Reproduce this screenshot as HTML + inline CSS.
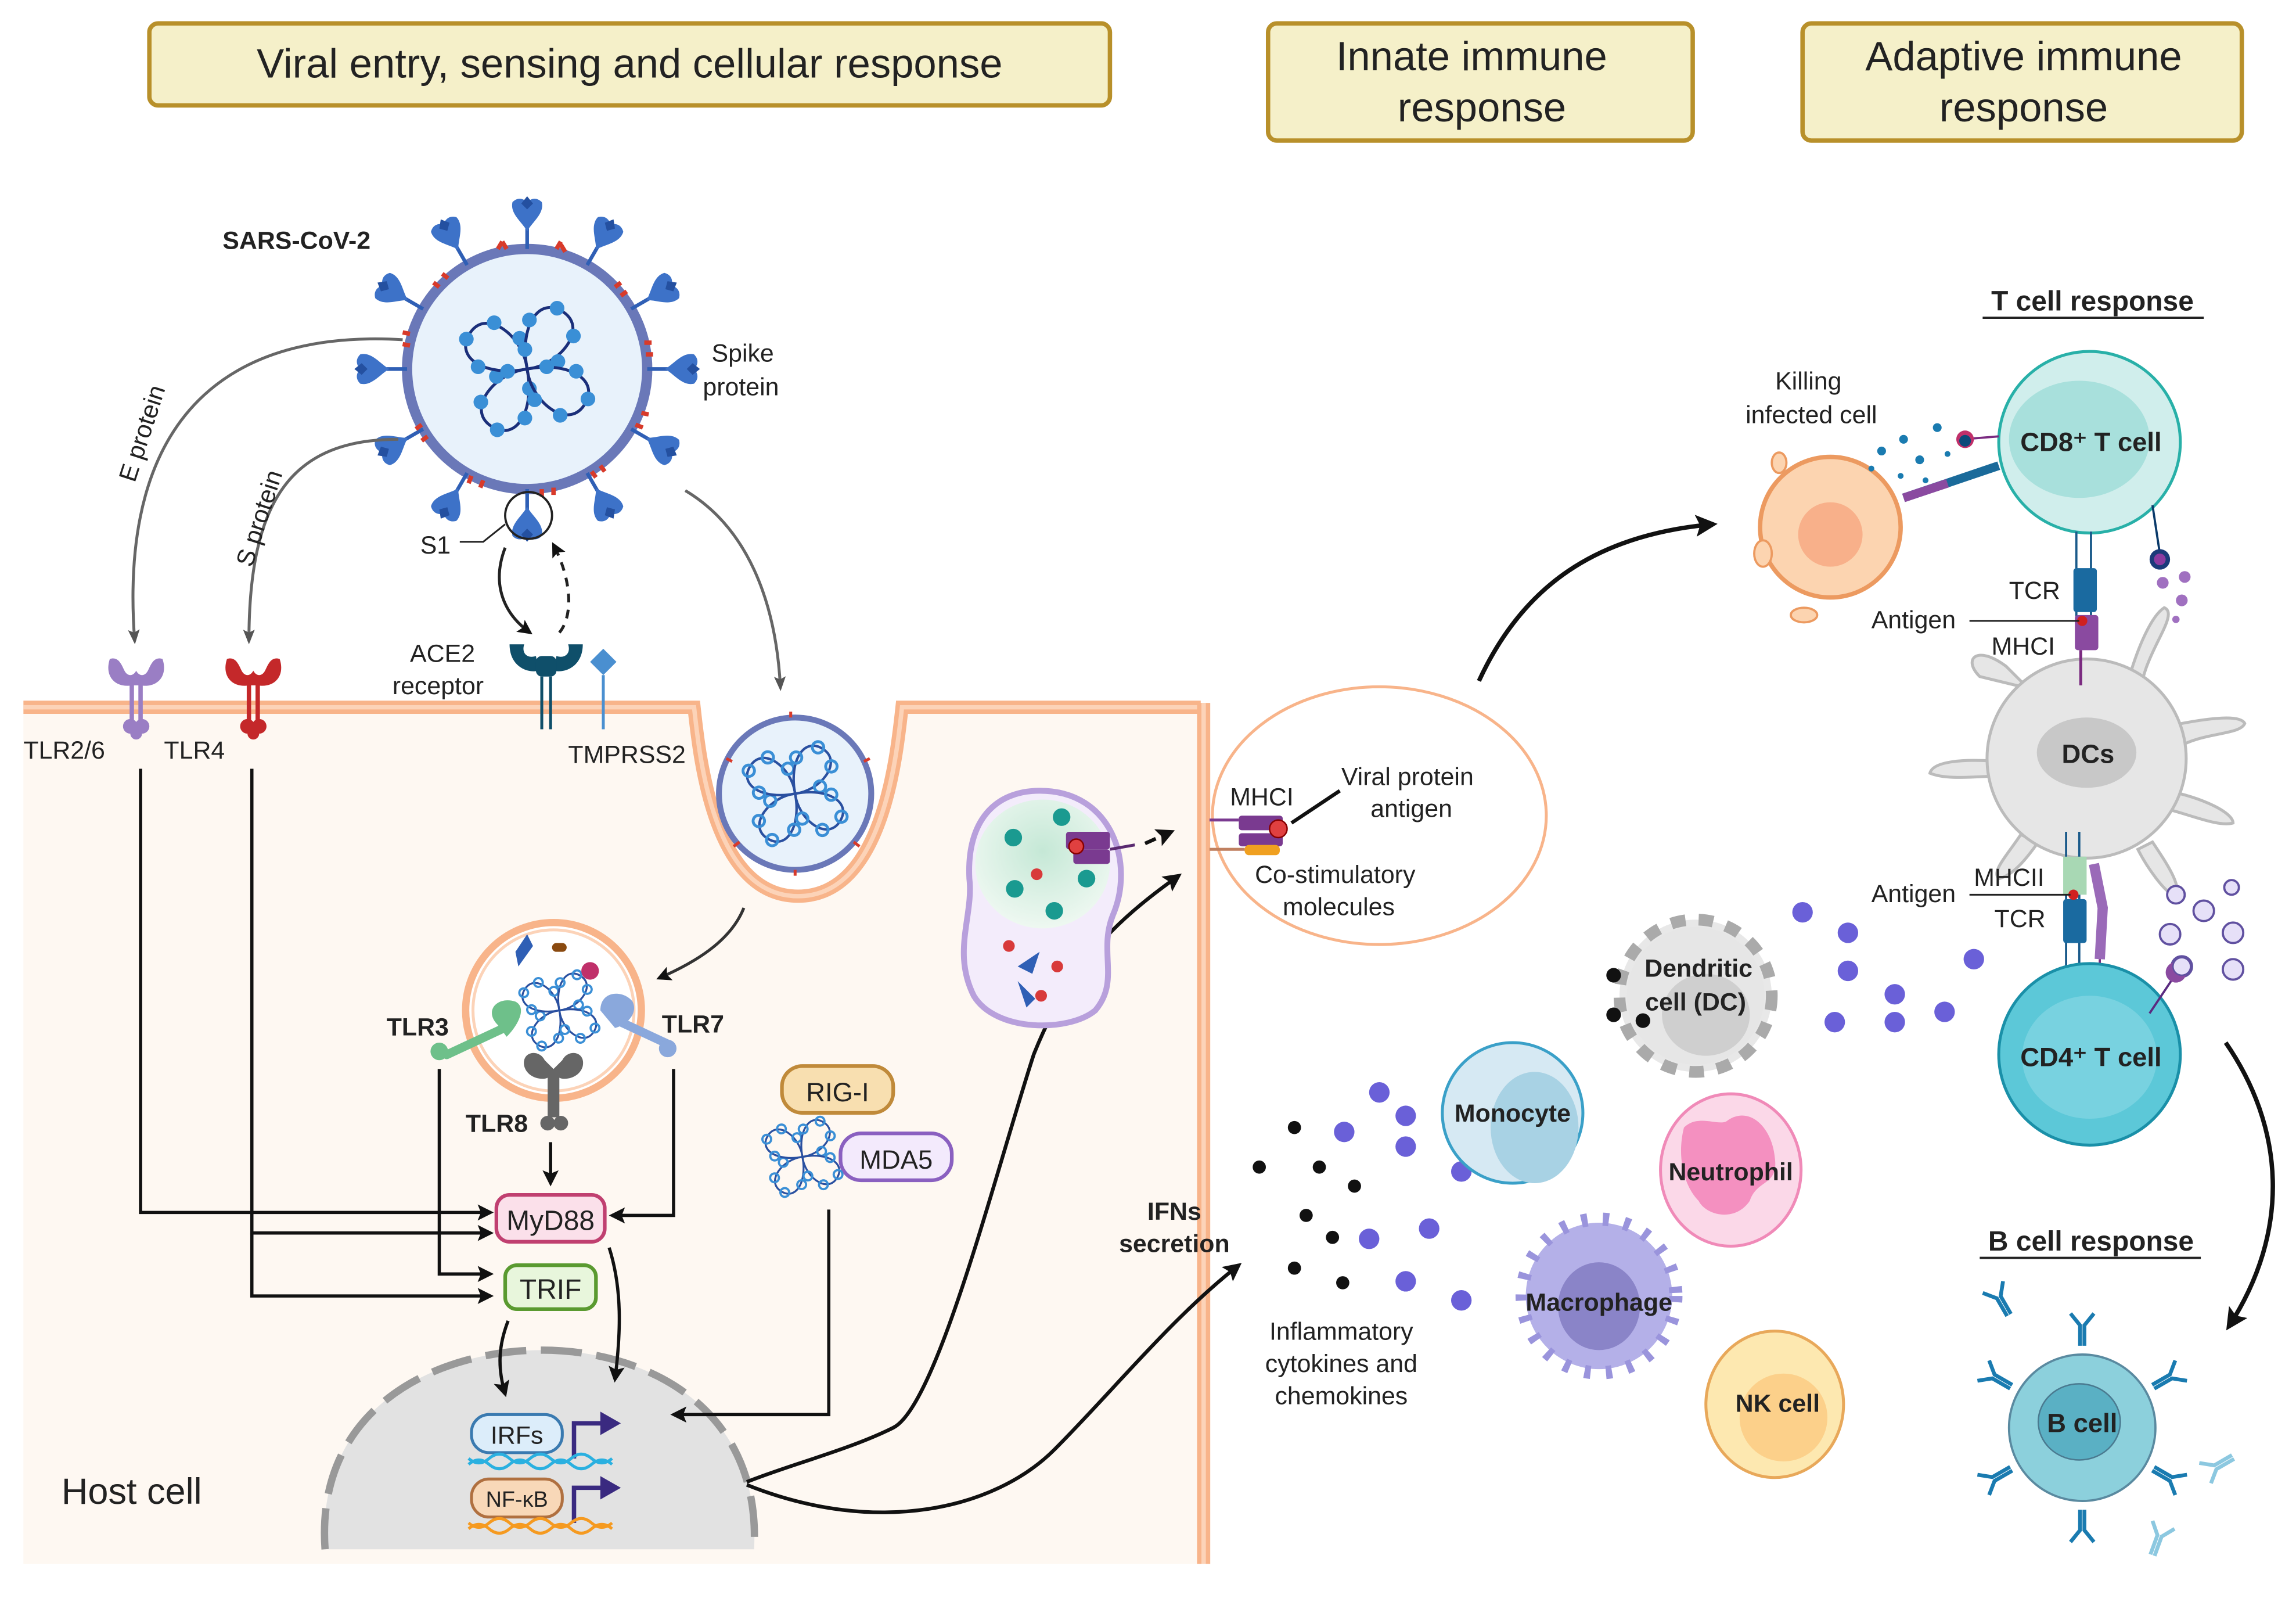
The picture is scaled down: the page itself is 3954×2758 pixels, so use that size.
<!DOCTYPE html>
<html><head><meta charset="utf-8"><style>
html,body{margin:0;padding:0;background:#fff}
svg{display:block}
text{font-family:"Liberation Sans",sans-serif;fill:#222}
.b{font-weight:bold}
</style></head><body>
<svg width="3954" height="2758" viewBox="0 0 1568 1094" preserveAspectRatio="none" xmlns="http://www.w3.org/2000/svg">
<defs>
<marker id="ah" viewBox="0 0 10 10" refX="8" refY="5" markerWidth="5" markerHeight="5" orient="auto"><path d="M0,0L10,5L0,10L2,5Z" fill="#111"/></marker>
<marker id="ahg" viewBox="0 0 10 10" refX="8" refY="5" markerWidth="5" markerHeight="5" orient="auto"><path d="M0,1L10,5L0,9L2,5Z" fill="#555"/></marker>
<g id="spike"><line x1="0" y1="0" x2="0" y2="-14" stroke="#2f5fb5" stroke-width="2.5"/><path d="M0,-12 C-3,-18 -12,-24 -10,-32 C-6,-36 -2,-34 0,-32 C2,-34 6,-36 10,-32 C12,-24 3,-18 0,-12Z" fill="#3d72c8"/><path d="M-4,-31 L0,-36 L4,-31 L0,-27Z" fill="#2450a0"/></g>
<g id="rna"><path d="M0,0 C-10,-20 -40,-30 -45,-10 C-50,10 -25,15 0,0" fill="none" stroke="#1b2f7a" stroke-width="2"/><circle cx="-12" cy="-18" r="5" fill="#3a8fd6"/><circle cx="-32" cy="-22" r="5" fill="#3a8fd6"/><circle cx="-46" cy="-5" r="5" fill="#3a8fd6"/><circle cx="-32" cy="10" r="5" fill="#3a8fd6"/><circle cx="-12" cy="6" r="5" fill="#3a8fd6"/></g>
<g id="rnas"><path d="M0,0 C-6,-12 -24,-18 -27,-6 C-30,6 -15,9 0,0" fill="none" stroke="#2a50a0" stroke-width="1.3"/><circle cx="-8" cy="-11" r="3" fill="none" stroke="#3a8fd6" stroke-width="1.5"/><circle cx="-20" cy="-13" r="3" fill="none" stroke="#3a8fd6" stroke-width="1.5"/><circle cx="-27" cy="-3" r="3" fill="none" stroke="#3a8fd6" stroke-width="1.5"/><circle cx="-18" cy="6" r="3" fill="none" stroke="#3a8fd6" stroke-width="1.5"/></g>
<g id="ab"><path d="M-1.5,0 V-14 L-8,-22 M1.5,0 V-14 L8,-22" fill="none" stroke="#1a7bb0" stroke-width="2.6"/></g>
<g id="ab2"><path d="M-1.5,0 V-14 L-8,-22 M1.5,0 V-14 L8,-22" fill="none" stroke="#8cc8e0" stroke-width="2.6"/></g>
<g id="tlr"><path d="M-3,0 V-26 M3,0 V-26" stroke="currentColor" stroke-width="3"/><path d="M-3,-24 C-14,-22 -22,-30 -18,-42 C-12,-44 -10,-38 -8,-34 C-6,-30 -2,-30 0,-34 C2,-30 6,-30 8,-34 C10,-38 12,-44 18,-42 C22,-30 14,-22 3,-24Z" fill="currentColor"/><circle cx="-4" cy="4" r="5" fill="currentColor"/><circle cx="4" cy="4" r="5" fill="currentColor"/><circle cx="0" cy="9" r="4" fill="currentColor"/></g>
<radialGradient id="gg" cx="0.5" cy="0.4" r="0.6"><stop offset="0" stop-color="#c5e8d6"/><stop offset="1" stop-color="#eef8f1"/></radialGradient>
</defs>

<!-- headers -->
<rect x="102" y="16" width="656" height="56" rx="6" fill="#f5f0c9" stroke="#b8902a" stroke-width="3"/>
<text x="430" y="53" font-size="28" text-anchor="middle">Viral entry, sensing and cellular response</text>
<rect x="866" y="16" width="290" height="80" rx="6" fill="#f5f0c9" stroke="#b8902a" stroke-width="3"/>
<text x="1005" y="48" font-size="28" text-anchor="middle">Innate immune</text>
<text x="1012" y="83" font-size="28" text-anchor="middle">response</text>
<rect x="1231" y="16" width="300" height="80" rx="6" fill="#f5f0c9" stroke="#b8902a" stroke-width="3"/>
<text x="1382" y="48" font-size="28" text-anchor="middle">Adaptive immune</text>
<text x="1382" y="83" font-size="28" text-anchor="middle">response</text>

<!-- host cell -->
<path d="M16,487 H478 C480,520 490,610 545,610 C600,610 610,520 612,487 H820 V1068 H16Z" fill="#fef8f2"/>
<path d="M16,483 H474 C478,520 488,612 545,612 C602,612 612,520 616,483 H820" fill="none" stroke="#f8b48a" stroke-width="9"/>
<path d="M16,483 H474 C478,520 488,612 545,612 C602,612 612,520 616,483 H820" fill="none" stroke="#fcd3b8" stroke-width="3"/>
<line x1="822" y1="480" x2="822" y2="1068" stroke="#f8b48a" stroke-width="9"/>
<line x1="822" y1="480" x2="822" y2="1068" stroke="#fcd3b8" stroke-width="3"/>
<text x="42" y="1027" font-size="25">Host cell</text>

<!-- virus -->
<g>
<circle cx="360" cy="252" r="82" fill="#e8f2fb" stroke="#6a78b8" stroke-width="7"/>
<g transform="translate(360,252)">
<use href="#spike" transform="rotate(0) translate(0,-82)"/>
<use href="#spike" transform="rotate(30) translate(0,-82)"/>
<use href="#spike" transform="rotate(60) translate(0,-82)"/>
<use href="#spike" transform="rotate(90) translate(0,-82)"/>
<use href="#spike" transform="rotate(120) translate(0,-82)"/>
<use href="#spike" transform="rotate(150) translate(0,-82)"/>
<use href="#spike" transform="rotate(180) translate(0,-82)"/>
<use href="#spike" transform="rotate(210) translate(0,-82)"/>
<use href="#spike" transform="rotate(240) translate(0,-82)"/>
<use href="#spike" transform="rotate(270) translate(0,-82)"/>
<use href="#spike" transform="rotate(300) translate(0,-82)"/>
<use href="#spike" transform="rotate(330) translate(0,-82)"/>
<g stroke="#d83a2a" stroke-width="3" fill="none">
<path d="M-20,-82 l3,-5 M-14,-82 l-3,-5"/><path d="M20,-82 l3,-5 M26,-80 l-3,-5"/><path d="M60,-56 l4,-3 M64,-50 l4,-3"/><path d="M80,-18 l5,0 M81,-10 l5,0"/><path d="M78,30 l5,1 M74,38 l5,2"/><path d="M50,66 l3,4 M44,70 l3,4"/><path d="M10,82 l0,5 M18,81 l0,5"/><path d="M-30,76 l-2,5 M-38,73 l-2,5"/><path d="M-68,46 l-4,3 M-72,38 l-4,3"/><path d="M-80,-16 l-5,-1 M-80,-24 l-5,-1"/><path d="M-60,-56 l-4,-3 M-54,-62 l-4,-3"/>
</g>
<use href="#rna" transform="rotate(-70)"/>
<use href="#rna" transform="rotate(20)"/>
<use href="#rna" transform="rotate(110)"/>
<use href="#rna" transform="rotate(200)"/>
</g>
</g>
<text x="152" y="170" font-size="17" class="b">SARS-CoV-2</text>
<text x="486" y="247" font-size="17">Spike</text>
<text x="480" y="270" font-size="17">protein</text>
<circle cx="361" cy="352" r="16" fill="none" stroke="#222" stroke-width="1.5"/>
<path d="M345,358 L330,370 H314" fill="none" stroke="#222" stroke-width="1.2"/>
<text x="287" y="378" font-size="17">S1</text>

<!-- E / S protein curves -->
<path d="M275,232 C160,225 80,280 92,438" fill="none" stroke="#666" stroke-width="2" marker-end="url(#ahg)"/>
<path d="M272,300 C200,300 170,340 170,438" fill="none" stroke="#666" stroke-width="2" marker-end="url(#ahg)"/>
<text transform="translate(92,330) rotate(-72)" font-size="17">E protein</text>
<text transform="translate(172,388) rotate(-72)" font-size="17">S protein</text>
<path d="M468,335 C510,360 530,410 533,470" fill="none" stroke="#666" stroke-width="2" marker-end="url(#ahg)"/>

<!-- ACE2 -->
<path d="M345,374 C335,400 345,420 362,432" fill="none" stroke="#222" stroke-width="2" marker-end="url(#ah)"/>
<path d="M382,432 C392,420 390,395 378,372" fill="none" stroke="#222" stroke-width="2" stroke-dasharray="6,5" marker-end="url(#ah)"/>
<g fill="#0f4f6a"><path d="M348,440 C348,455 360,460 368,458 L366,448 C360,450 356,446 358,440Z"/><path d="M398,440 C398,455 386,460 378,458 L380,448 C386,450 390,446 388,440Z"/><rect x="366" y="448" width="14" height="14" rx="4"/></g>
<line x1="370" y1="462" x2="370" y2="498" stroke="#0f4f6a" stroke-width="2"/><line x1="376" y1="462" x2="376" y2="498" stroke="#0f4f6a" stroke-width="2"/>
<path d="M412,443 L421,452 L412,461 L403,452Z" fill="#4a8fd0"/><line x1="412" y1="461" x2="412" y2="498" stroke="#4a8fd0" stroke-width="2"/>
<text x="280" y="452" font-size="17">ACE2</text>
<text x="268" y="474" font-size="17">receptor</text>
<text x="388" y="521" font-size="17">TMPRSS2</text>

<!-- TLR2/6, TLR4 -->
<use href="#tlr" transform="translate(93,492)" style="color:#9a7ec4"/>
<use href="#tlr" transform="translate(173,492)" style="color:#c4282a"/>
<text x="16" y="518" font-size="17">TLR2/6</text>
<text x="112" y="518" font-size="17">TLR4</text>

<!-- endocytosed virus -->
<circle cx="543" cy="542" r="52" fill="#e8f2fb" stroke="#6a78b8" stroke-width="4"/>
<use href="#rnas" transform="translate(543,542) rotate(-70) scale(1.3)"/>
<use href="#rnas" transform="translate(543,542) rotate(20) scale(1.3)"/>
<use href="#rnas" transform="translate(543,542) rotate(110) scale(1.3)"/>
<use href="#rnas" transform="translate(543,542) rotate(200) scale(1.3)"/>
<g stroke="#d83a2a" stroke-width="2"><path d="M500,520 l-4,-2 M590,520 l4,-2 M505,575 l-4,3 M583,575 l4,3 M540,490 l0,-4 M543,594 l0,4"/></g>
<path d="M508,620 C500,640 480,655 450,668" fill="none" stroke="#333" stroke-width="2" marker-end="url(#ah)"/>

<!-- endosome -->
<circle cx="378" cy="690" r="60" fill="#fff" stroke="#f8b48a" stroke-width="5"/>
<circle cx="378" cy="690" r="55" fill="#fff" stroke="#fcd3b8" stroke-width="2"/>
<use href="#rnas" transform="translate(382,690) rotate(-70)"/>
<use href="#rnas" transform="translate(382,690) rotate(20)"/>
<use href="#rnas" transform="translate(382,690) rotate(110)"/>
<use href="#rnas" transform="translate(382,690) rotate(200)"/>
<path d="M352,650 l8,-12 l4,8 l-10,14Z" fill="#2f5fb5"/>
<rect x="377" y="644" width="10" height="6" rx="3" fill="#8a4a10"/>
<circle cx="403" cy="663" r="6" fill="#c0306a"/>
<g fill="#6ec08a"><path d="M340,700 C330,690 340,680 352,684 C360,688 354,700 346,708Z"/><rect x="300" y="708" width="50" height="6" rx="3" transform="rotate(-25 325 711)"/><circle cx="300" cy="718" r="6"/></g>
<g fill="#8aa8dc"><path d="M410,690 C410,676 426,676 432,684 C436,692 428,700 420,702Z"/><rect x="418" y="702" width="42" height="6" rx="3" transform="rotate(25 439 705)"/><circle cx="456" cy="716" r="6"/></g>
<g fill="#666"><path d="M358,728 C356,718 368,716 372,724 L378,730 L384,724 C388,716 400,718 398,728 C396,736 386,738 382,736 L374,736 C370,738 360,736 358,728Z"/><rect x="374" y="735" width="8" height="28"/><circle cx="374" cy="767" r="5"/><circle cx="383" cy="767" r="5"/></g>
<text x="264" y="707" font-size="17" class="b">TLR3</text>
<text x="452" y="705" font-size="17" class="b">TLR7</text>
<text x="318" y="773" font-size="17" class="b">TLR8</text>

<!-- nucleus -->
<path d="M222,1058 C215,960 300,922 370,922 C440,922 520,960 515,1058Z" fill="#e2e2e2"/>
<path d="M222,1058 C215,960 300,922 370,922 C440,922 520,960 515,1058" fill="none" stroke="#999" stroke-width="5" stroke-dasharray="28,10"/>
<rect x="322" y="966" width="62" height="26" rx="12" fill="#dcedfa" stroke="#3a7ab0" stroke-width="2"/>
<text x="353" y="986" font-size="17" text-anchor="middle">IRFs</text>
<rect x="322" y="1010" width="62" height="26" rx="12" fill="#f8d8b8" stroke="#b07040" stroke-width="2"/>
<text x="353" y="1029" font-size="15" text-anchor="middle">NF-κB</text>
<path d="M392,996 V972 H412" fill="none" stroke="#3a2a80" stroke-width="3"/><path d="M410,964 L424,972 L410,980Z" fill="#3a2a80"/>
<path d="M392,1040 V1016 H412" fill="none" stroke="#3a2a80" stroke-width="3"/><path d="M410,1008 L424,1016 L410,1024Z" fill="#3a2a80"/>
<path d="M320,1000 q7,-6 14,0 t14,0 t14,0 t14,0 t14,0 t14,0 t14,0 M320,996 q7,6 14,0 t14,0 t14,0 t14,0 t14,0 t14,0 t14,0" fill="none" stroke="#2ab0e0" stroke-width="2"/>
<path d="M320,1044 q7,-6 14,0 t14,0 t14,0 t14,0 t14,0 t14,0 t14,0 M320,1040 q7,6 14,0 t14,0 t14,0 t14,0 t14,0 t14,0 t14,0" fill="none" stroke="#f59a20" stroke-width="2"/>

<!-- signaling lines -->
<g fill="none" stroke="#111" stroke-width="2.2">
<path d="M96,525 V828 H335" marker-end="url(#ah)"/>
<path d="M172,525 V842 H335" marker-end="url(#ah)"/>
<path d="M172,842 V885 H335" marker-end="url(#ah)"/>
<path d="M300,730 V870 H335" marker-end="url(#ah)"/>
<path d="M460,730 V830 H418" marker-end="url(#ah)"/>
<path d="M376,780 V808" marker-end="url(#ah)"/>
<path d="M416,852 C425,880 424,910 420,942" marker-end="url(#ah)"/>
<path d="M347,902 C340,920 340,935 345,952" marker-end="url(#ah)"/>
<path d="M566,826 V966 H460" marker-end="url(#ah)"/>
</g>
<rect x="339" y="816" width="74" height="32" rx="9" fill="#fbe0ea" stroke="#c04070" stroke-width="2.5"/>
<text x="376" y="840" font-size="19" text-anchor="middle">MyD88</text>
<rect x="345" y="864" width="62" height="30" rx="8" fill="#e8f6dc" stroke="#5a9a30" stroke-width="2.5"/>
<text x="376" y="887" font-size="19" text-anchor="middle">TRIF</text>
<rect x="534" y="728" width="76" height="32" rx="14" fill="#f8dfb0" stroke="#c08a3a" stroke-width="2.5"/>
<text x="572" y="752" font-size="18" text-anchor="middle">RIG-I</text>
<rect x="574" y="774" width="76" height="32" rx="14" fill="#f3eafc" stroke="#8a60c0" stroke-width="2.5"/>
<text x="612" y="798" font-size="18" text-anchor="middle">MDA5</text>
<use href="#rnas" transform="translate(548,790) rotate(-70)"/>
<use href="#rnas" transform="translate(548,790) rotate(20)"/>
<use href="#rnas" transform="translate(548,790) rotate(110)"/>
<use href="#rnas" transform="translate(548,790) rotate(200)"/>

<!-- nucleus out arrows -->
<path d="M510,1012 C540,1000 580,990 610,975 C640,960 680,800 706,720 C730,660 760,630 805,598" fill="none" stroke="#111" stroke-width="2.5" marker-end="url(#ah)"/>
<path d="M510,1014 C600,1050 680,1030 720,990 C760,950 800,900 846,864" fill="none" stroke="#111" stroke-width="2.5" marker-end="url(#ah)"/>

<!-- MHC vesicle -->
<path d="M710,540 C760,540 775,590 760,625 C750,650 765,670 748,690 C730,705 680,705 665,680 C650,650 665,625 662,600 C660,560 680,540 710,540Z" fill="#f3ecfb" stroke="#b8a0dc" stroke-width="4"/>
<ellipse cx="712" cy="590" rx="46" ry="44" fill="url(#gg)"/>
<g fill="#1a9a90"><circle cx="725" cy="558" r="6"/><circle cx="692" cy="572" r="6"/><circle cx="693" cy="607" r="6"/><circle cx="742" cy="600" r="6"/><circle cx="720" cy="622" r="6"/></g>
<g fill="#d83a3a"><circle cx="708" cy="597" r="4"/><circle cx="689" cy="646" r="4"/><circle cx="722" cy="660" r="4"/><circle cx="711" cy="680" r="4"/></g>
<path d="M695,660 l15,-10 l-5,15Z M695,670 l6,18 l6,-6Z" fill="#2f5fb5"/>
<rect x="728" y="568" width="30" height="12" rx="2" fill="#7a3a90"/><rect x="733" y="580" width="25" height="10" rx="2" fill="#7a3a90"/><circle cx="735" cy="578" r="5" fill="#e04040" stroke="#800" stroke-width="1"/>
<path d="M758,580 L775,577" stroke="#5a2a70" stroke-width="2" fill="none"/>
<path d="M782,576 L800,568" stroke="#111" stroke-width="2.5" fill="none" stroke-dasharray="8,4" marker-end="url(#ah)"/>

<!-- zoom circle -->
<ellipse cx="942" cy="557" rx="114" ry="88" fill="#fff" stroke="#f8b48a" stroke-width="2"/>
<rect x="846" y="557" width="30" height="10" rx="2" fill="#7a3a90"/><rect x="846" y="569" width="30" height="9" rx="2" fill="#7a3a90"/><circle cx="873" cy="566" r="6" fill="#e04040" stroke="#800" stroke-width="1"/>
<line x1="826" y1="560" x2="846" y2="560" stroke="#7a3a90" stroke-width="2"/>
<line x1="826" y1="580" x2="850" y2="580" stroke="#c08060" stroke-width="2"/><rect x="850" y="577" width="24" height="7" rx="3" fill="#f0a020"/>
<line x1="882" y1="562" x2="915" y2="540" stroke="#111" stroke-width="2.5"/>
<text x="840" y="550" font-size="17">MHCI</text>
<text x="916" y="536" font-size="17">Viral protein</text>
<text x="936" y="558" font-size="17">antigen</text>
<text x="857" y="603" font-size="17">Co-stimulatory</text>
<text x="876" y="625" font-size="17">molecules</text>
<text x="802" y="833" font-size="17" class="b" text-anchor="middle">IFNs</text>
<text x="802" y="855" font-size="17" class="b" text-anchor="middle">secretion</text>

<!-- arrow to T cell -->
<path d="M1010,465 C1040,400 1090,365 1170,358" fill="none" stroke="#111" stroke-width="3" marker-end="url(#ah)"/>

<!-- cytokines -->
<g fill="#111"><circle cx="884" cy="770" r="4.5"/><circle cx="860" cy="797" r="4.5"/><circle cx="901" cy="797" r="4.5"/><circle cx="925" cy="810" r="4.5"/><circle cx="892" cy="830" r="4.5"/><circle cx="910" cy="845" r="4.5"/><circle cx="884" cy="866" r="4.5"/><circle cx="917" cy="876" r="4.5"/></g>
<g fill="#6a60d8"><circle cx="942" cy="746" r="7"/><circle cx="960" cy="762" r="7"/><circle cx="918" cy="773" r="7"/><circle cx="960" cy="783" r="7"/><circle cx="998" cy="800" r="7"/><circle cx="935" cy="846" r="7"/><circle cx="976" cy="839" r="7"/><circle cx="960" cy="875" r="7"/><circle cx="998" cy="888" r="7"/>
<circle cx="1231" cy="623" r="7"/><circle cx="1262" cy="637" r="7"/><circle cx="1262" cy="663" r="7"/><circle cx="1294" cy="679" r="7"/><circle cx="1253" cy="698" r="7"/><circle cx="1294" cy="698" r="7"/><circle cx="1328" cy="691" r="7"/><circle cx="1348" cy="655" r="7"/></g>
<text x="916" y="915" font-size="17" text-anchor="middle">Inflammatory</text>
<text x="916" y="937" font-size="17" text-anchor="middle">cytokines and</text>
<text x="916" y="959" font-size="17" text-anchor="middle">chemokines</text>

<!-- innate cells -->
<circle cx="1158" cy="680" r="52" fill="#e8e8e8" stroke="#aaa" stroke-width="8" stroke-dasharray="10,9"/>
<circle cx="1158" cy="680" r="47" fill="#e6e6e6"/>
<ellipse cx="1165" cy="693" rx="30" ry="28" fill="#cfcfcf"/>
<g fill="#111"><circle cx="1102" cy="666" r="5"/><circle cx="1102" cy="693" r="5"/><circle cx="1122" cy="697" r="5"/></g>
<text x="1160" y="667" font-size="17" class="b" text-anchor="middle">Dendritic</text>
<text x="1158" y="690" font-size="17" class="b" text-anchor="middle">cell (DC)</text>

<circle cx="1033" cy="760" r="48" fill="#d6e9f3" stroke="#3aa0c8" stroke-width="2"/>
<ellipse cx="1048" cy="770" rx="30" ry="38" fill="#a8d2e4"/>
<text x="1033" y="766" font-size="17" class="b" text-anchor="middle">Monocyte</text>

<ellipse cx="1182" cy="799" rx="48" ry="52" fill="#fbd8e8" stroke="#f08ab8" stroke-width="2"/>
<path d="M1150,770 C1160,760 1175,770 1180,765 C1195,755 1210,770 1212,790 C1215,810 1200,805 1195,820 C1185,835 1165,830 1160,820 C1150,810 1145,790 1150,770Z" fill="#f490c0"/>
<text x="1182" y="806" font-size="17" class="b" text-anchor="middle">Neutrophil</text>

<circle cx="1092" cy="885" r="50" fill="#b4b0e8" stroke="#9a94dc" stroke-width="14" stroke-dasharray="4,10"/>
<circle cx="1092" cy="885" r="48" fill="#b4b0e8"/>
<ellipse cx="1092" cy="892" rx="28" ry="30" fill="#8a84c8"/>
<text x="1092" y="895" font-size="17" class="b" text-anchor="middle">Macrophage</text>

<ellipse cx="1212" cy="959" rx="47" ry="50" fill="#fde8b0" stroke="#e8a85a" stroke-width="2"/>
<ellipse cx="1218" cy="968" rx="30" ry="30" fill="#fcd08a"/>
<text x="1214" y="964" font-size="17" class="b" text-anchor="middle">NK cell</text>

<!-- T cell response -->
<text x="1429" y="212" font-size="19" class="b" text-anchor="middle">T cell response</text>
<line x1="1354" y1="217" x2="1505" y2="217" stroke="#222" stroke-width="1.5"/>

<circle cx="1250" cy="360" r="48" fill="#fcd4b0" stroke="#ec9a60" stroke-width="3"/>
<circle cx="1250" cy="365" r="22" fill="#f8b08a"/>
<g fill="#fcd4b0" stroke="#ec9a60" stroke-width="1.5"><ellipse cx="1204" cy="378" rx="6" ry="9"/><ellipse cx="1232" cy="420" rx="9" ry="5"/><ellipse cx="1215" cy="316" rx="5" ry="7"/></g>
<g fill="#1a7bb0"><circle cx="1285" cy="308" r="3"/><circle cx="1300" cy="300" r="3"/><circle cx="1323" cy="292" r="3"/><circle cx="1311" cy="314" r="3"/><circle cx="1278" cy="320" r="2"/><circle cx="1298" cy="325" r="2"/><circle cx="1315" cy="328" r="2"/><circle cx="1330" cy="310" r="2"/></g>
<text x="1235" y="266" font-size="17" text-anchor="middle">Killing</text>
<text x="1237" y="289" font-size="17" text-anchor="middle">infected cell</text>

<!-- CD8 -->
<circle cx="1427" cy="302" r="62" fill="#d0eeec" stroke="#28b0a8" stroke-width="2"/>
<ellipse cx="1420" cy="300" rx="48" ry="40" fill="#a8e0dc"/>
<text x="1428" y="308" font-size="18" class="b" text-anchor="middle">CD8⁺ T cell</text>
<path d="M1300,340 L1365,318" stroke="#1a6a9a" stroke-width="6"/><path d="M1300,340 L1330,330" stroke="#8a4aa0" stroke-width="6"/>
<line x1="1340" y1="300" x2="1365" y2="298" stroke="#7a2a80" stroke-width="1.5"/><circle cx="1342" cy="300" r="6" fill="#c0306a"/><circle cx="1342" cy="301" r="4" fill="#0a4a7a"/>
<line x1="1470" y1="345" x2="1475" y2="378" stroke="#0a3a6a" stroke-width="1.5"/><circle cx="1475" cy="382" r="7" fill="#1a3a7a"/><circle cx="1475" cy="382" r="4" fill="#8a3aa0"/>
<g fill="#a070c0"><circle cx="1477" cy="398" r="4"/><circle cx="1492" cy="394" r="4"/><circle cx="1490" cy="410" r="4"/><circle cx="1478" cy="418" r="2.5"/><circle cx="1486" cy="423" r="2.5"/><circle cx="1474" cy="428" r="2"/></g>

<!-- DC -->
<g fill="#e6e6e6" stroke="#bbb" stroke-width="2">
<path d="M1370,455 C1350,440 1340,450 1352,462 L1385,470 Z"/>
<path d="M1452,470 C1460,440 1470,420 1478,415 C1490,420 1460,450 1462,478 Z"/>
<path d="M1485,495 C1510,490 1530,488 1533,494 C1530,502 1505,500 1488,510 Z"/>
<path d="M1480,540 C1505,545 1525,555 1525,562 C1515,565 1495,556 1478,552 Z"/>
<path d="M1365,520 C1340,518 1320,520 1318,528 C1330,533 1350,530 1365,530 Z"/>
<path d="M1470,575 C1480,590 1490,605 1486,612 C1478,610 1465,590 1460,580 Z"/>
<path d="M1380,570 C1370,585 1360,595 1365,600 C1375,598 1385,585 1392,575 Z"/>
<circle cx="1425" cy="518" r="68"/>
</g>
<circle cx="1425" cy="518" r="66" fill="#e6e6e6"/>
<ellipse cx="1425" cy="514" rx="34" ry="24" fill="#c8c8c8"/>
<text x="1426" y="521" font-size="18" class="b" text-anchor="middle">DCs</text>

<line x1="1418" y1="363" x2="1418" y2="440" stroke="#1a5a8a" stroke-width="1.5"/><line x1="1428" y1="363" x2="1428" y2="440" stroke="#1a5a8a" stroke-width="1.5"/>
<rect x="1416" y="388" width="16" height="30" rx="2" fill="#1a6aa0"/>
<rect x="1417" y="420" width="16" height="24" rx="2" fill="#8a4aa0"/>
<line x1="1421" y1="444" x2="1421" y2="468" stroke="#7a2a80" stroke-width="2"/>
<circle cx="1422" cy="424" r="3.5" fill="#d02020"/>
<line x1="1345" y1="424" x2="1420" y2="424" stroke="#222" stroke-width="1.2"/>
<text x="1372" y="409" font-size="17">TCR</text>
<text x="1278" y="429" font-size="17">Antigen</text>
<text x="1360" y="447" font-size="17">MHCI</text>

<line x1="1411" y1="568" x2="1411" y2="680" stroke="#1a5a8a" stroke-width="1.5"/><line x1="1420" y1="568" x2="1420" y2="680" stroke="#1a5a8a" stroke-width="1.5"/>
<rect x="1409" y="585" width="16" height="26" fill="#a8d8b4"/>
<rect x="1409" y="614" width="16" height="30" rx="2" fill="#1a6aa0"/>
<circle cx="1416" cy="611" r="3.5" fill="#d02020"/>
<path d="M1430,590 L1436,620 L1434,655" stroke="#9a6ab8" stroke-width="7" fill="none"/><line x1="1434" y1="655" x2="1434" y2="680" stroke="#7a2a80" stroke-width="1.5"/>
<line x1="1345" y1="611" x2="1414" y2="611" stroke="#222" stroke-width="1.2"/>
<text x="1278" y="616" font-size="17">Antigen</text>
<text x="1348" y="605" font-size="17">MHCII</text>
<text x="1362" y="633" font-size="17">TCR</text>
<g fill="#e6e0f8" stroke="#6050a0" stroke-width="1.5"><circle cx="1486" cy="611" r="6"/><circle cx="1524" cy="606" r="5"/><circle cx="1505" cy="622" r="7"/><circle cx="1525" cy="637" r="7"/><circle cx="1482" cy="638" r="7"/><circle cx="1525" cy="662" r="7"/><circle cx="1490" cy="660" r="7"/></g>

<!-- CD4 -->
<circle cx="1427" cy="720" r="62" fill="#5cc8d8" stroke="#1a90a8" stroke-width="2"/>
<ellipse cx="1427" cy="722" rx="46" ry="42" fill="#78d2e0"/>
<text x="1428" y="728" font-size="18" class="b" text-anchor="middle">CD4⁺ T cell</text>
<line x1="1468" y1="692" x2="1484" y2="668" stroke="#5a2a80" stroke-width="1.5"/><circle cx="1486" cy="664" r="7" fill="#8a4aa0"/><circle cx="1490" cy="660" r="6" fill="#e6e0f8" stroke="#6050a0"/>

<path d="M1520,712 C1560,770 1565,840 1522,906" fill="none" stroke="#111" stroke-width="3" marker-end="url(#ah)"/>

<!-- B cell -->
<text x="1428" y="854" font-size="19" class="b" text-anchor="middle">B cell response</text>
<line x1="1352" y1="859" x2="1503" y2="859" stroke="#222" stroke-width="1.5"/>
<g transform="translate(1422,975)">
<use href="#ab" transform="rotate(0) translate(0,-56)"/>
<use href="#ab" transform="rotate(60) translate(0,-56)"/>
<use href="#ab" transform="rotate(120) translate(0,-56)"/>
<use href="#ab" transform="rotate(180) translate(0,-56)"/>
<use href="#ab" transform="rotate(240) translate(0,-56)"/>
<use href="#ab" transform="rotate(300) translate(0,-56)"/>
<circle r="50" fill="#8cd0dc" stroke="#5a8aa0" stroke-width="1.5"/>
<ellipse cx="-2" cy="-4" rx="28" ry="26" fill="#5ab0c4" stroke="#4a7a90" stroke-width="1"/>
<text x="0" y="3" font-size="18" class="b" text-anchor="middle">B cell</text>
</g>
<use href="#ab" transform="translate(1372,898) rotate(-30)"/>
<use href="#ab2" transform="translate(1525,995) rotate(-120)"/>
<use href="#ab2" transform="translate(1470,1062) rotate(20)"/>
</svg>
</body></html>
